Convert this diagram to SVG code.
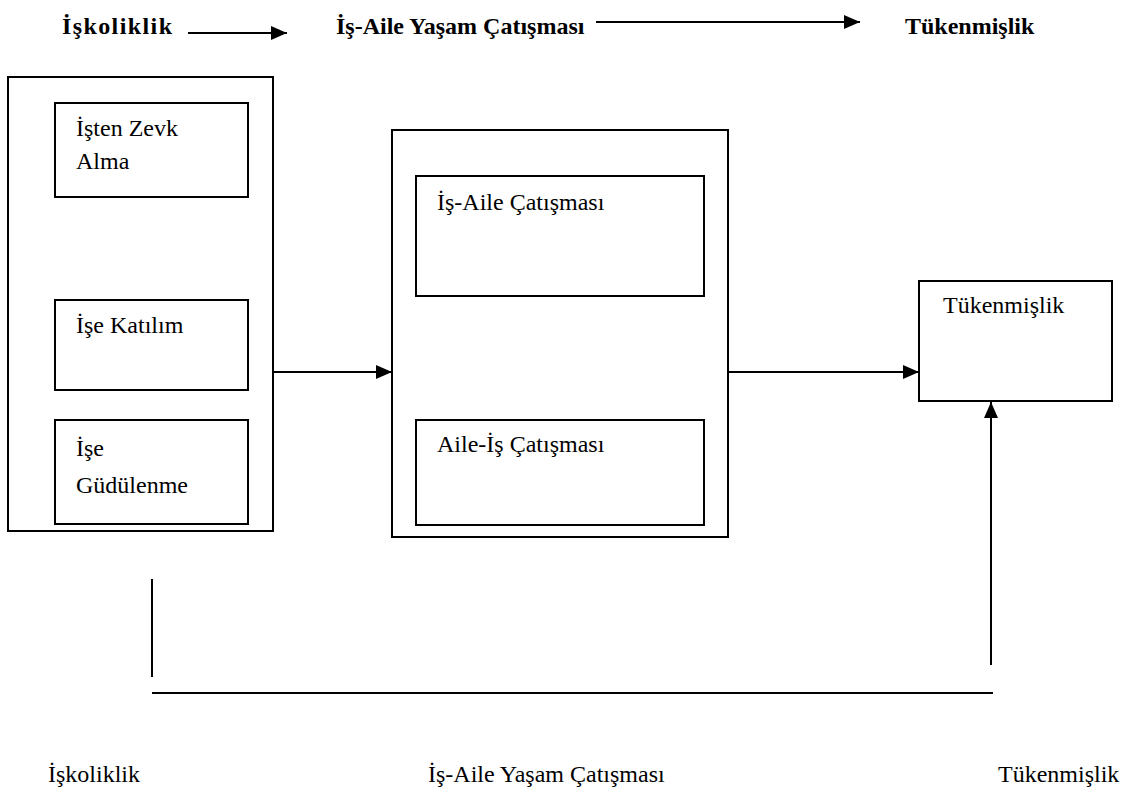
<svg xmlns="http://www.w3.org/2000/svg" width="1125" height="792" viewBox="0 0 1125 792">
<style>
.box{fill:#fff;stroke:#000;stroke-width:2}
.t{font-family:"Liberation Serif","Times New Roman",serif;font-size:24px;fill:#000}
.b{font-family:"Liberation Serif","Times New Roman",serif;font-size:24px;font-weight:bold;fill:#000}
.ln{stroke:#000;stroke-width:2;fill:none}
</style>
<defs>
<marker id="ah" viewBox="0 0 16 14" refX="16" refY="7" markerWidth="16" markerHeight="14" markerUnits="userSpaceOnUse" orient="auto">
<path d="M0,0 L16,7 L0,14 Z" fill="#000"/>
</marker>
</defs>
<g id="header">
<text class="b" x="62" y="34" textLength="110" lengthAdjust="spacing">İşkoliklik</text>
<text class="b" x="336" y="34">İş-Aile Yaşam Çatışması</text>
<text class="b" x="905" y="34">Tükenmişlik</text>
</g>
<g id="isk">
<rect class="box" x="8" y="77" width="265" height="454"/>
<rect class="box" x="55" y="103" width="193" height="94"/>
<text class="t" x="76" y="136">İşten Zevk</text>
<text class="t" x="76" y="169">Alma</text>
<rect class="box" x="55" y="300" width="193" height="90"/>
<text class="t" x="76" y="333">İşe Katılım</text>
<rect class="box" x="55" y="420" width="193" height="104"/>
<text class="t" x="76" y="456">İşe</text>
<text class="t" x="76" y="493">Güdülenme</text>
</g>
<g id="iayc">
<rect class="box" x="392" y="130" width="336" height="407"/>
<rect class="box" x="416" y="176" width="288" height="120"/>
<text class="t" x="437" y="210">İş-Aile Çatışması</text>
<rect class="box" x="416" y="420" width="288" height="105"/>
<text class="t" x="437" y="452">Aile-İş Çatışması</text>
</g>
<g id="tuk">
<rect class="box" x="919" y="281" width="193" height="120"/>
<text class="t" x="943" y="313">Tükenmişlik</text>
</g>
<g id="footer">
<text class="t" x="48" y="782">İşkoliklik</text>
<text class="t" x="428" y="782">İş-Aile Yaşam Çatışması</text>
<text class="t" x="998" y="782">Tükenmişlik</text>
</g>
<g id="connectors">
<line class="ln" x1="188" y1="33" x2="287" y2="33" marker-end="url(#ah)"/>
<line class="ln" x1="596" y1="22" x2="860" y2="22" marker-end="url(#ah)"/>
<line class="ln" x1="273" y1="372" x2="392" y2="372" marker-end="url(#ah)"/>
<line class="ln" x1="728" y1="372" x2="919" y2="372" marker-end="url(#ah)"/>
<line class="ln" x1="991" y1="665" x2="991" y2="402" marker-end="url(#ah)"/>
<line class="ln" x1="152" y1="579" x2="152" y2="677"/>
<line class="ln" x1="152" y1="693" x2="993" y2="693"/>
</g>
</svg>
